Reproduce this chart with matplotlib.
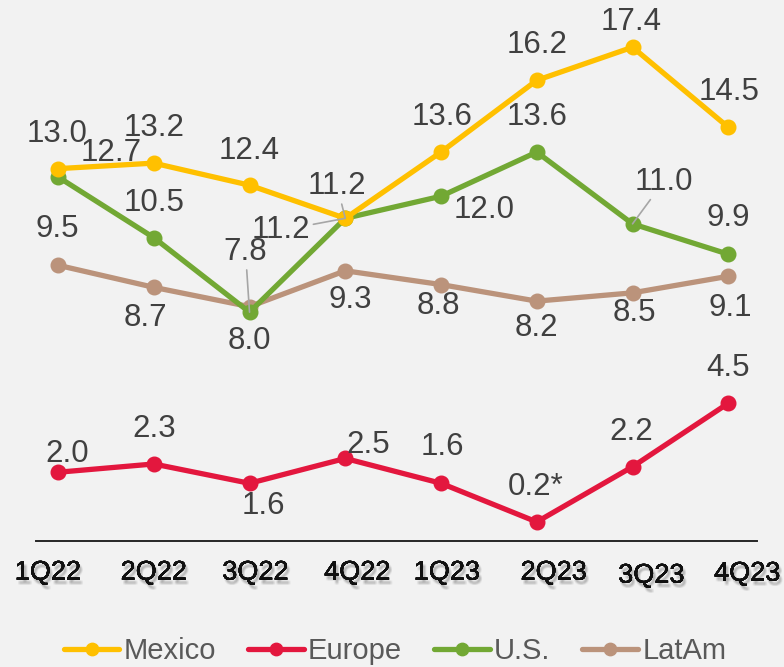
import matplotlib
matplotlib.use("Agg")
import matplotlib.pyplot as plt
import matplotlib.patheffects as pe

plt.rcParams["font.family"] = ["Liberation Sans", "DejaVu Sans"]

quarters = ["1Q22", "2Q22", "3Q22", "4Q22", "1Q23", "2Q23", "3Q23", "4Q23"]
mexico = [13.0, 13.2, 12.4, 11.2, 13.6, 16.2, 17.4, 14.5]
europe = [2.0, 2.3, 1.6, 2.5, 1.6, 0.2, 2.2, 4.5]
us = [12.7, 10.5, 7.8, 11.2, 12.0, 13.6, 11.0, 9.9]
latam = [9.5, 8.7, 8.0, 9.3, 8.8, 8.2, 8.5, 9.1]
europe_notes = ["", "", "", "", "", "*", "", ""]

BG = "#F2F2F2"
COLORS = {"Mexico": "#FFC000", "Europe": "#E3173E", "U.S.": "#72A834", "LatAm": "#BB937B"}
LABEL_COLOR = "#404040"

# label offsets in pixels (dx, dy) from each point; leader = draw a grey connector
mexico_off = [(-1, 35), (0, 35), (0, 34), (-8, 32), (1, 35), (0, 35), (-1, 25), (1, 35)]
europe_off = [(9, 18), (0, 35), (14, -23), (23, 13), (1, 36), (-1, 35), (-1, 35), (0, 35)]
us_off = [(53, 24), (0, 35), (-4, 60), (-64, -12), (43, -14), (0, 35), (31, 42), (0, 36)]
latam_off = [(-1, 36), (-8, -31), (0, -34), (5, -29), (-3, -21), (0, -27), (2, -20), (2, -32)]
mexico_leader = [3]
us_leader = [2, 3, 6]

fig = plt.figure(figsize=(7.84, 6.67), dpi=100, facecolor=BG)
ax = fig.add_axes([36 / 784, (667 - 540.7) / 667, 721 / 784, 540.7 / 667])
ax.set_facecolor(BG)

x = list(range(len(quarters)))
series = [
    ("Mexico", mexico, mexico_off, mexico_leader, None),
    ("Europe", europe, europe_off, [], europe_notes),
    ("U.S.", us, us_off, us_leader, None),
    ("LatAm", latam, latam_off, [], None),
]

draw_order = ["LatAm", "U.S.", "Mexico", "Europe"]
for name in draw_order:
    vals = dict((s[0], s[1]) for s in series)[name]
    ax.plot(x, vals, color=COLORS[name], lw=3.8, marker="o", ms=10.5,
            solid_capstyle="round", label=name, zorder=3, clip_on=False)

for name, vals, offs, leaders, notes in series:
    for i, v in enumerate(vals):
        txt = "%.1f" % v
        if notes:
            txt += notes[i]
        arrow = None
        if i in leaders:
            arrow = dict(arrowstyle="-", color="#A6A6A6", lw=1.2, shrinkA=0, shrinkB=0)
        ax.annotate(txt, (i, v), xytext=offs[i], textcoords="offset pixels",
                    ha="center", va="center", fontsize=22.5, color=LABEL_COLOR,
                    arrowprops=arrow, zorder=5, annotation_clip=False)

ax.set_xlim(-0.23, 7.30)
ax.set_ylim(-0.48, 19.11)
for side in ["top", "right", "left"]:
    ax.spines[side].set_visible(False)
ax.spines["bottom"].set_color("#262626")
ax.spines["bottom"].set_linewidth(1.4)
ax.set_yticks([])
ax.set_xticks([])

# category labels with a soft drop shadow
shadow = [pe.withSimplePatchShadow(offset=(dx, dy), shadow_rgbFace="#000000", alpha=0.035)
          for dx in (0.8, 1.6, 2.4) for dy in (-2.0, -2.8, -3.6)]
tick_off = [(-10, -32), (0, -32), (6, -32), (12, -32), (6, -32), (17, -32), (19, -35), (19, -33)]
for i, q in enumerate(quarters):
    ax.annotate(q, (i, 0), xycoords=("data", "axes fraction"), xytext=tick_off[i],
                textcoords="offset pixels", ha="center", va="center", fontsize=19.5,
                color="#111111", annotation_clip=False,
                path_effects=shadow + [pe.Normal()])

handles, labels = ax.get_legend_handles_labels()
order = [labels.index(n) for n in ["Mexico", "Europe", "U.S.", "LatAm"]]
leg = fig.legend([handles[k] for k in order], [labels[k] for k in order],
                 loc="center", bbox_to_anchor=(395 / 784, 1 - 651 / 667), ncol=4,
                 frameon=False, fontsize=21, handlelength=1.9, handletextpad=0.15,
                 columnspacing=1.1, labelcolor="#595959", markerscale=0.85)

fig.savefig("out.png", dpi=100, facecolor=BG)
